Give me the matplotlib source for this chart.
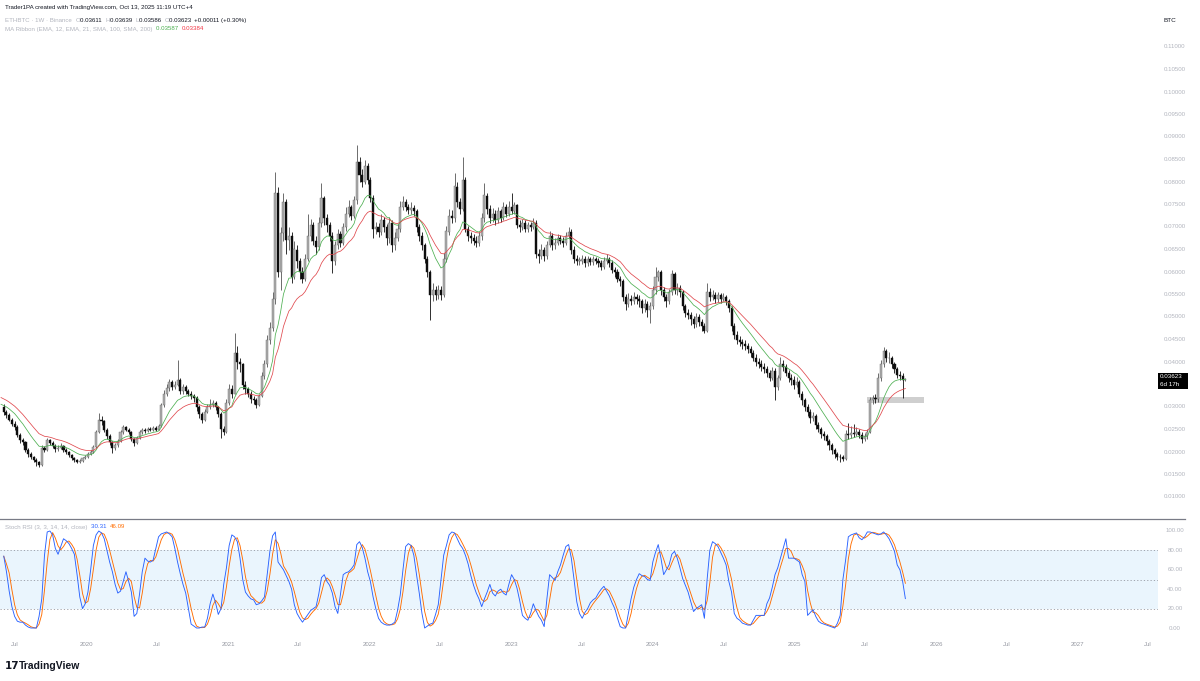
import matplotlib
matplotlib.use("Agg")
import matplotlib.pyplot as plt
import matplotlib.dates as mdates
import matplotlib.transforms as mtrans
import numpy as np
import pandas as pd

# ---- data (weekly ETHBTC, Binance) ----
first_week = "2019-06-03"
first_open = 0.0300

closes = [
    .0288, .0283, .0272, .0262, .0256, .0238, .0226, .0222, .0205, .0195,
    .0188, .0183, .0178, .0172, .0210, .0205, .0226, .0220, .0214, .0206,
    .0210, .0213, .0205, .0200, .0193, .0186, .0182, .0178, .0180, .0187,
    .0190, .0196, .0200, .0212, .0245, .0272, .0268, .0250, .0236, .0222,
    .0208, .0215, .0225, .0245, .0255, .0250, .0245, .0228, .0220, .0232,
    .0245, .0250, .0247, .0252, .0250, .0254, .0250, .0258, .0305, .0330,
    .0342, .0355, .0345, .0350, .0360, .0335, .0345, .0335, .0330, .0325,
    .0320, .0300, .0285, .0272, .0290, .0300, .0305, .0310, .0300, .0285,
    .0252, .0245, .0310, .0340, .0330, .0420, .0400, .0395, .0350, .0340,
    .0330, .0318, .0315, .0305, .0325, .0370, .0395, .0450, .0475, .0540,
    .0776, .0600, .0687, .0756, .0671, .0680, .0590, .0650, .0625, .0600,
    .0585, .0630, .0680, .0705, .0670, .0655, .0710, .0765, .0720, .0705,
    .0680, .0625, .0660, .0685, .0665, .0700, .0730, .0745, .0725, .0760,
    .0845, .0815, .0800, .0835, .0805, .0765, .0695, .0700, .0690, .0715,
    .0700, .0675, .0710, .0660, .0675, .0695, .0745, .0755, .0745, .0738,
    .0742, .0735, .0700, .0680, .0660, .0630, .0600, .0550, .0560, .0548,
    .0560, .0550, .0630, .0690, .0725, .0720, .0790, .0755, .0740, .0805,
    .0695, .0680, .0675, .0670, .0665, .0680, .0720, .0770, .0740, .0720,
    .0730, .0715, .0735, .0720, .0745, .0730, .0745, .0735, .0748, .0705,
    .0700, .0710, .0695, .0705, .0700, .0710, .0640, .0635, .0650, .0635,
    .0660, .0680, .0660, .0665, .0675, .0670, .0665, .0680, .0690, .0650,
    .0630, .0625, .0625, .0630, .0620, .0628, .0622, .0628, .0625, .0620,
    .0612, .0625, .0628, .0620, .0605, .0600, .0585, .0580, .0545, .0530,
    .0540, .0535, .0545, .0540, .0535, .0520, .0530, .0515, .0525, .0560,
    .0590, .0600, .0560, .0545, .0535, .0555, .0595, .0560, .0565, .0555,
    .0525, .0510, .0505, .0495, .0485, .0500, .0490, .0480, .0470, .0555,
    .0545, .0550, .0540, .0548, .0540, .0545, .0535, .0520, .0480, .0460,
    .0450, .0445, .0440, .0435, .0430, .0420, .0410, .0400, .0395, .0390,
    .0385, .0375, .0365, .0380, .0345, .0365, .0395, .0390, .0375, .0365,
    .0360, .0350, .0355, .0330, .0315, .0300, .0290, .0275, .0280, .0260,
    .0252, .0240, .0235, .0225, .0215, .0205, .0195, .0190, .0188, .0185,
    .0240, .0238, .0242, .0240, .0245, .0238, .0228, .0235, .0245, .0315,
    .0320, .0318, .0365, .0395, .0425, .0408, .0410, .0395, .0385, .0372,
    .0368, .03611, .03623,
]

highs = [
    .0306, .0294, .0287, .0276, .0268, .0259, .0242, .0231, .0224, .0209,
    .0199, .0192, .0186, .0181, .0216, .0214, .0232, .0229, .0224, .0217,
    .0215, .0219, .0215, .0208, .0203, .0196, .0190, .0185, .0184, .0190,
    .0194, .0199, .0204, .0216, .0250, .0287, .0280, .0271, .0254, .0240,
    .0225, .0219, .0229, .0249, .0260, .0258, .0253, .0247, .0231, .0236,
    .0249, .0254, .0253, .0256, .0255, .0258, .0257, .0262, .0310, .0337,
    .0352, .0362, .0360, .0358, .0404, .0365, .0352, .0349, .0340, .0336,
    .0329, .0324, .0304, .0290, .0296, .0306, .0318, .0316, .0314, .0303,
    .0289, .0258, .0318, .0352, .0348, .0464, .0435, .0410, .0398, .0358,
    .0345, .0336, .0325, .0320, .0330, .0378, .0405, .0460, .0490, .0555,
    .0822, .0790, .0700, .0775, .0762, .0700, .0690, .0668, .0660, .0632,
    .0612, .0640, .0730, .0718, .0712, .0680, .0722, .0798, .0770, .0730,
    .0712, .0688, .0670, .0695, .0692, .0710, .0745, .0760, .0750, .0770,
    .0882, .0855, .0830, .0850, .0842, .0812, .0772, .0712, .0708, .0728,
    .0722, .0706, .0722, .0716, .0688, .0706, .0758, .0768, .0762, .0752,
    .0755, .0750, .0740, .0706, .0688, .0665, .0636, .0605, .0575, .0570,
    .0572, .0568, .0642, .0702, .0740, .0738, .0820, .0800, .0765, .0856,
    .0812, .0702, .0690, .0684, .0680, .0690, .0732, .0798, .0775, .0748,
    .0742, .0738, .0745, .0740, .0755, .0752, .0758, .0775, .0756, .0752,
    .0715, .0718, .0716, .0712, .0712, .0720, .0715, .0652, .0662, .0656,
    .0670, .0692, .0686, .0675, .0685, .0682, .0678, .0690, .0700, .0695,
    .0658, .0638, .0634, .0638, .0636, .0635, .0634, .0636, .0634, .0632,
    .0626, .0634, .0640, .0634, .0626, .0612, .0606, .0592, .0585, .0552,
    .0553, .0550, .0556, .0552, .0548, .0540, .0540, .0536, .0534, .0570,
    .0611, .0605, .0604, .0566, .0552, .0562, .0604, .0600, .0575, .0572,
    .0560, .0530, .0518, .0512, .0502, .0508, .0506, .0496, .0486, .0576,
    .0565, .0560, .0556, .0556, .0554, .0554, .0550, .0540, .0524, .0486,
    .0468, .0458, .0452, .0448, .0442, .0436, .0426, .0418, .0408, .0404,
    .0398, .0392, .0382, .0390, .0386, .0372, .0411, .0405, .0396, .0382,
    .0374, .0368, .0366, .0360, .0336, .0320, .0306, .0295, .0288, .0284,
    .0266, .0256, .0246, .0240, .0230, .0220, .0210, .0200, .0196, .0194,
    .0249, .0264, .0258, .0262, .0256, .0252, .0244, .0242, .0252, .0322,
    .0326, .0328, .0376, .0404, .0433, .0430, .0422, .0414, .0400, .0390,
    .0380, .0375, .03639,
]

lows = [
    .0283, .0276, .0268, .0257, .0250, .0234, .0221, .0216, .0200, .0190,
    .0184, .0178, .0170, .0167, .0170, .0199, .0203, .0215, .0209, .0201,
    .0203, .0207, .0200, .0196, .0188, .0182, .0178, .0175, .0176, .0178,
    .0184, .0187, .0193, .0198, .0210, .0242, .0260, .0245, .0230, .0215,
    .0198, .0205, .0212, .0222, .0241, .0246, .0240, .0224, .0214, .0218,
    .0229, .0241, .0243, .0244, .0246, .0247, .0246, .0248, .0256, .0300,
    .0325, .0335, .0338, .0340, .0346, .0328, .0330, .0328, .0324, .0318,
    .0312, .0292, .0275, .0265, .0270, .0287, .0296, .0300, .0294, .0278,
    .0231, .0238, .0243, .0305, .0320, .0328, .0385, .0378, .0340, .0330,
    .0322, .0310, .0306, .0298, .0302, .0322, .0362, .0390, .0440, .0470,
    .0530, .0590, .0560, .0670, .0640, .0650, .0576, .0585, .0610, .0585,
    .0575, .0580, .0625, .0668, .0660, .0640, .0650, .0700, .0705, .0690,
    .0668, .0598, .0615, .0652, .0655, .0660, .0692, .0722, .0715, .0720,
    .0752, .0800, .0790, .0795, .0795, .0755, .0675, .0685, .0678, .0682,
    .0690, .0660, .0665, .0645, .0650, .0668, .0690, .0738, .0735, .0728,
    .0730, .0725, .0690, .0668, .0650, .0620, .0590, .0493, .0535, .0538,
    .0540, .0538, .0545, .0622, .0682, .0708, .0712, .0745, .0728, .0735,
    .0688, .0670, .0665, .0660, .0655, .0658, .0672, .0712, .0730, .0708,
    .0712, .0705, .0708, .0712, .0715, .0722, .0725, .0728, .0730, .0698,
    .0690, .0694, .0688, .0690, .0692, .0695, .0632, .0620, .0628, .0625,
    .0630, .0655, .0650, .0652, .0660, .0662, .0656, .0660, .0675, .0640,
    .0620, .0615, .0616, .0618, .0612, .0614, .0615, .0616, .0618, .0612,
    .0604, .0606, .0618, .0612, .0598, .0590, .0578, .0570, .0535, .0516,
    .0522, .0526, .0528, .0530, .0522, .0510, .0512, .0500, .0487, .0518,
    .0552, .0580, .0550, .0535, .0522, .0530, .0550, .0552, .0550, .0545,
    .0515, .0500, .0495, .0482, .0475, .0478, .0480, .0470, .0464, .0466,
    .0535, .0538, .0532, .0534, .0532, .0535, .0526, .0512, .0470, .0452,
    .0440, .0436, .0430, .0426, .0420, .0412, .0402, .0392, .0386, .0380,
    .0375, .0366, .0358, .0360, .0316, .0338, .0360, .0380, .0368, .0355,
    .0350, .0340, .0344, .0322, .0305, .0292, .0280, .0264, .0268, .0252,
    .0244, .0232, .0226, .0216, .0205, .0196, .0186, .0182, .0178, .0180,
    .0183, .0230, .0232, .0234, .0236, .0232, .0220, .0224, .0230, .0242,
    .0306, .0308, .0312, .0358, .0388, .0400, .0398, .0386, .0376, .0364,
    .0360, .0320, .03586,
]

# Stoch RSI %K (3, 3, 14, 14) read per week
stoch_k = [
    74, 58, 38, 22, 12, 7, 6, 6, 3, 1,
    0, 0, 0, 12, 30, 75, 99, 100, 96, 82,
    76, 84, 92, 90, 87, 82, 76, 55, 32, 20,
    25, 37, 60, 85, 96, 100, 98, 92, 80, 68,
    58, 45, 36, 38, 48, 58, 48, 37, 12, 15,
    35, 58, 72, 69, 68, 70, 82, 94, 97, 98,
    99, 97, 94, 82, 68, 56, 45, 36, 20, 4,
    2, 0, 0, 1, 1, 10, 25, 35, 26, 14,
    20, 45, 62, 85, 96, 94, 89, 72, 50, 37,
    33, 30, 29, 24, 25, 28, 32, 55, 79, 95,
    99, 68, 64, 60, 54, 48, 40, 24, 15, 10,
    6, 10, 14, 18, 20, 22, 35, 52, 55, 48,
    44, 36, 22, 15, 35, 55, 57, 58, 61, 65,
    86, 89, 83, 72, 58, 48, 32, 20, 10, 6,
    4, 3, 3, 4, 6, 18, 34, 60, 84, 87,
    85, 75, 55, 36, 15, 0, 2, 4, 5, 14,
    24, 50, 75, 85, 96, 99, 98, 92, 86, 82,
    75, 66, 54, 44, 36, 30, 22, 30, 37, 45,
    36, 33, 38, 40, 36, 34, 45, 55, 50, 41,
    28, 13, 10, 8, 15, 25, 18, 12, 8, 1.4,
    30, 55, 52, 49, 58, 65, 75, 84, 86, 72,
    50, 27, 15, 10, 16, 20, 26, 29, 31, 36,
    40, 43, 38, 33, 26, 20, 10, 1.4, 0, 0,
    15, 30, 42, 50, 56, 54, 53, 50, 49, 68,
    78, 86, 72, 55, 60, 65, 76, 79, 72, 62,
    51, 44, 37, 27, 17, 20, 22, 24, 10, 50,
    80, 89, 87, 84, 78, 72, 65, 48, 37, 15,
    10, 8, 5, 4, 3, 3, 8, 13, 13, 13,
    13, 25, 31, 42, 55, 62, 72, 82, 92, 72,
    72, 72, 70, 68, 55, 48, 13, 16, 19, 12,
    7, 5, 4, 3, 2, 1, 0, 5, 13, 50,
    70, 94, 96, 97, 98, 93, 91, 94, 99, 99,
    98, 97, 96, 97, 99, 96, 92, 86, 79, 65,
    60, 48, 30.31,
]

# EMA values at the left edge of the chart
ema12_seed = 0.0306
ema21_seed = 0.0321

zone_start, zone_end = "2025-07-07", "2025-12-01"
zone_low, zone_high = 0.0309, 0.0322

price_ticks = [0.110, 0.105, 0.100, 0.095, 0.090, 0.085, 0.080, 0.075, 0.070,
               0.065, 0.060, 0.055, 0.050, 0.045, 0.040, 0.030, 0.025, 0.020,
               0.015, 0.010]
stoch_ticks = [100, 80, 60, 40, 20, 0]
last_price = 0.03623

# ---- styling ----
FONT = ["Liberation Sans", "DejaVu Sans"]
W, H = 1200, 681
TXT = "#131722"
GREY = "#b2b5be"
UP_FACE, UP_EDGE, DOWN = "#b0b0b0", "#666666", "#0d0d0d"


def fx(x):
    return x / W


def fy(y):
    return 1 - y / H


fig = plt.figure(figsize=(W / 100, H / 100), dpi=100)
fig.patch.set_facecolor("white")

# pixel geometry of the panes
pane_right = 1158
ax = fig.add_axes([0, fy(518), fx(pane_right), 518 / H])
ax_s = fig.add_axes([0, fy(640), fx(pane_right), (640 - 519) / H])
for a in (ax, ax_s):
    a.set_axis_off()

# price scale: 0.11 at y=47, 22.5 px per 0.005
ax.set_ylim(0.11 - (518 - 47) / 4500, 0.11 + 47 / 4500)
# stoch scale: 100 at y=531, 0 at y=628
ax_s.set_ylim((628 - 640) / 0.97, (628 - 519) / 0.97)

ref = mdates.date2num(pd.Timestamp("2020-01-01"))
px_day = 141.7 / 365.25
xlim = (ref - 86 / px_day, ref + (pane_right - 86) / px_day)
ax.set_xlim(*xlim)
ax_s.set_xlim(*xlim)

weeks = pd.date_range(first_week, periods=len(closes), freq="7D")
xd = mdates.date2num(weeks)
c = np.array(closes)
o = np.concatenate([[first_open], c[:-1]])
h = np.array(highs)
l = np.array(lows)
up = c >= o

# candles
ax.vlines(xd, l, h, colors=np.where(up, "#555555", DOWN), linewidth=0.6, zorder=2)
bottom = np.minimum(o, c)
height = np.maximum(np.abs(c - o), 0.00008)
ax.bar(xd, height, bottom=bottom, width=5.3,
       color=np.where(up, UP_FACE, DOWN), edgecolor=np.where(up, UP_EDGE, DOWN),
       linewidth=0.3, zorder=3)

# MA ribbon (EMA 12 / EMA 21)
def ema(values, seed, n):
    a = 2 / (n + 1)
    out, e = [seed], seed
    for v in values:
        e = e + a * (v - e)
        out.append(e)
    return np.array(out)

xe = np.concatenate([[xd[0] - 7], xd])
ax.plot(xe, ema(closes, ema12_seed, 12), color="#4caf50", linewidth=0.55, zorder=4)
ax.plot(xe, ema(closes, ema21_seed, 21), color="#e0474c", linewidth=0.55, zorder=4)

# support zone
z0, z1 = mdates.date2num(pd.Timestamp(zone_start)), mdates.date2num(pd.Timestamp(zone_end))
ax.add_patch(plt.Rectangle((z0, zone_low), z1 - z0, zone_high - zone_low,
                           facecolor="#cfcfcf", edgecolor="none", zorder=1))

# stoch RSI
k = pd.Series(stoch_k, dtype=float)
d = k.rolling(3, min_periods=1).mean()
ax_s.axhspan(20, 80, color="#2196f3", alpha=0.09, linewidth=0, zorder=0)
for lv in (80, 50, 20):
    ax_s.axhline(lv, color="#9598a1", linewidth=0.6, dashes=(1.5, 2.5), zorder=1)
ax_s.plot(xd, k, color="#2962ff", linewidth=0.65, zorder=3)
ax_s.plot(xd, d, color="#ff6d00", linewidth=0.65, zorder=2)

# separator between panes
fig.add_artist(plt.Line2D([0, fx(1185)], [fy(519), fy(519)], color="#787b86", linewidth=0.9))

# ---- text ----
renderer = fig.canvas.get_renderer()


def runs(x, y, parts, size=4.4):
    for s, col in parts:
        t = fig.text(fx(x), fy(y), s, color=col, fontsize=size, family=FONT,
                     ha="left", va="center")
        x += t.get_window_extent(renderer=renderer).width


runs(5, 7, [("Trader1PA created with TradingView.com, Oct 13, 2025 11:19 UTC+4", TXT)], 4.45)
runs(5, 20.5, [("ETHBTC · 1W · Binance  ", GREY), ("O", GREY), ("0.03611  ", TXT),
               ("H", GREY), ("0.03639  ", TXT), ("L", GREY), ("0.03586  ", TXT),
               ("C", GREY), ("0.03623  ", TXT), ("+0.00011 (+0.30%)", TXT)])
runs(5, 29, [("MA Ribbon (EMA, 12, EMA, 21, SMA, 100, SMA, 200)  ", GREY),
             ("0.03587  ", "#4caf50"), ("0.03384", "#f23645")])
runs(5, 527, [("Stoch RSI (3, 3, 14, 14, close)  ", GREY), ("30.31  ", "#2962ff"),
              ("46.09", "#ff6d00")])

fig.text(fx(1170), fy(21), "BTC", color=TXT, fontsize=4.6, family=FONT, ha="center", va="center")

ptrans = mtrans.blended_transform_factory(fig.transFigure, ax.transData)
for p in price_ticks:
    ax.text(fx(1175), p, f"{p:.5f}", transform=ptrans, color=GREY, fontsize=4.4,
            family=FONT, ha="center", va="center")

strans = mtrans.blended_transform_factory(fig.transFigure, ax_s.transData)
for s in stoch_ticks:
    ax_s.text(fx(1175), s, f"{s:.2f}", transform=strans, color=GREY, fontsize=4.4,
              family=FONT, ha="center", va="center")

# last price tag
ax.add_patch(plt.Rectangle((fx(1158), fy(389)), fx(30), 16 / H, transform=fig.transFigure,
                           facecolor="#000000", edgecolor="none", clip_on=False))
fig.text(fx(1160), fy(377), f"{last_price:.5f}", color="white", fontsize=4.5,
         family=FONT, ha="left", va="center")
fig.text(fx(1160), fy(385), "6d 17h", color="white", fontsize=4.5,
         family=FONT, ha="left", va="center")

# time axis labels
ttrans = mtrans.blended_transform_factory(ax_s.transData, fig.transFigure)
for yr in range(2019, 2028):
    for m, lab in ((1, str(yr)), (7, "Jul")):
        dn = mdates.date2num(pd.Timestamp(yr, m, 1))
        if xlim[0] < dn < mdates.date2num(pd.Timestamp("2027-08-01")):
            ax_s.text(dn, fy(645), lab, transform=ttrans, color="#9598a1", fontsize=4.4,
                      family=FONT, ha="center", va="center", clip_on=False)

# TradingView footer
fig.text(fx(5), fy(666), "17", color=TXT, fontsize=7.5, weight="bold",
         family=["DejaVu Sans"], ha="left", va="center")
fig.text(fx(19), fy(666), "TradingView", color=TXT, fontsize=7.5, weight="bold",
         family=FONT, ha="left", va="center")

fig.savefig("out.png", dpi=100, facecolor="white")
